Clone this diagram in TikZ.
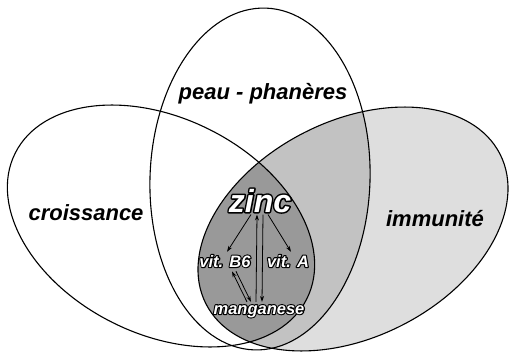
\documentclass[tikz,border=0pt]{standalone}
\usepackage{fontspec}
\setmainfont{Liberation Sans}
\usetikzlibrary{arrows.meta}
\newcommand\outlined[2][2.2]{\rlap{\special{pdf:literal direct 1 Tr #1 w 1 J 1 j 0 G}#2\special{pdf:literal direct 0 Tr}}#2}
\tikzset{
  outline/.style={draw=black, line width=1.1pt},
  lbl/.style={font=\bfseries\itshape\fontsize{22}{24}\selectfont, anchor=base, inner sep=0pt},
  inlbl/.style={font=\bfseries\itshape\fontsize{16.5}{18}\selectfont, anchor=base, inner sep=0pt, text=white},
  arr/.style={-{Stealth[length=6pt,width=4pt]}, line width=0.8pt},
}
\begin{document}
\begin{tikzpicture}[x=1pt,y=1pt]
\useasboundingbox (0,0) rectangle (510,351);
% fills
\fill[black!13, rotate around={27:(353,122)}] (353,122) ellipse [x radius=165pt, y radius=108pt];
\begin{scope}
  \clip[rotate around={27:(353,122)}] (353,122) ellipse [x radius=165pt, y radius=108pt];
  \fill[black!24, rotate around={-2:(260,172)}] (260,172) ellipse [x radius=110pt, y radius=171pt];
  \fill[black!40, rotate around={-26.5:(161,125)}] (161,125) ellipse [x radius=163pt, y radius=108pt];
\end{scope}
% outlines
\draw[outline, rotate around={-26.5:(161,125)}] (161,125) ellipse [x radius=163pt, y radius=108pt];
\draw[outline, rotate around={27:(353,122)}] (353,122) ellipse [x radius=165pt, y radius=108pt];
\draw[outline, rotate around={-2:(260,172)}] (260,172) ellipse [x radius=110pt, y radius=171pt];
% labels
\node[lbl] (peau) at (263,251) {peau - phanères};
\node[lbl] (crois) at (86,131) {croissance};
\node[lbl] (immu) at (435,125) {immunité};
% inner labels
\node[inlbl, font=\bfseries\itshape\fontsize{32}{34}\selectfont] (zinc) at (260,139) {\outlined[3]{zinc}};
\node[inlbl] (b6) at (225,84) {\outlined{vit. B6}};
\node[inlbl] (vA) at (288,84) {\outlined{vit. A}};
\node[inlbl] (mn) at (259,37) {\outlined{manganese}};
% arrows
\draw[arr] ([xshift=-9pt,yshift=-2pt]zinc.south) -- ([xshift=2pt,yshift=3pt]b6.north);
\draw[arr] ([xshift=8pt,yshift=-2pt]zinc.south) -- ([xshift=3pt,yshift=3pt]vA.north);
\draw[arr] ([xshift=-3pt,yshift=3pt]mn.north) -- ([xshift=-3pt,yshift=-2pt]zinc.south);
\draw[arr] ([xshift=3pt,yshift=-2pt]zinc.south) -- ([xshift=3pt,yshift=3pt]mn.north);
\draw[arr] ([xshift=-12pt,yshift=3pt]mn.north) -- ([xshift=7pt,yshift=-4pt]b6.south);
\draw[arr] ([xshift=11pt,yshift=-4pt]b6.south) -- ([xshift=-8pt,yshift=3pt]mn.north);
\end{tikzpicture}
\end{document}
